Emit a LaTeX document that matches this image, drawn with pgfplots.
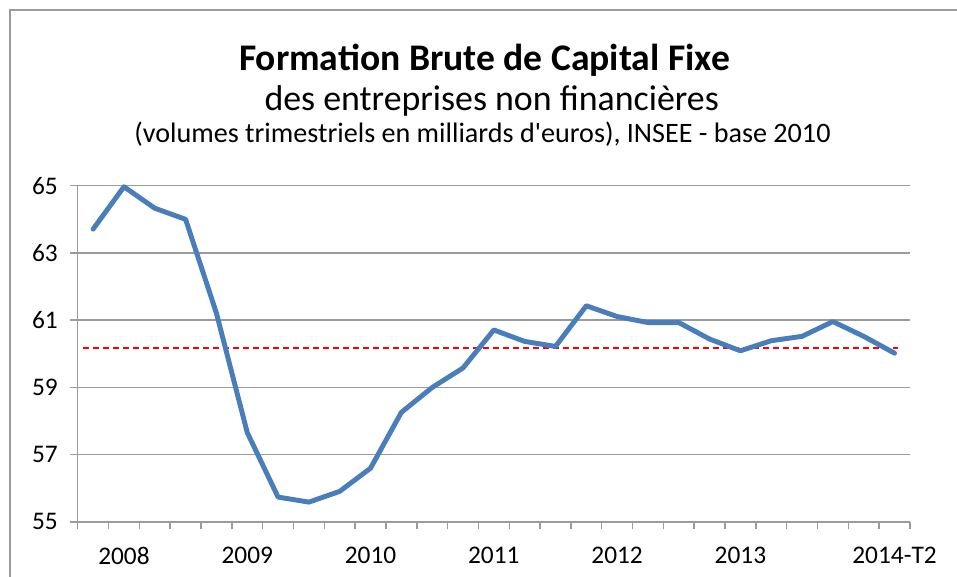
\documentclass[border=0pt]{standalone}
\usepackage{pgfplots}
\pgfplotsset{compat=1.18}
\usepackage{fontspec}
\setmainfont{Carlito}
\definecolor{gridgray}{RGB}{155,155,155}
\definecolor{lineblue}{RGB}{74,126,187}
\pgfplotstableread{
x y
0 63.71
1 64.97
2 64.33
3 64.00
4 61.21
5 57.66
6 55.74
7 55.59
8 55.91
9 56.60
10 58.26
11 59.00
12 59.58
13 60.71
14 60.37
15 60.22
16 61.43
17 61.11
18 60.93
19 60.93
20 60.44
21 60.09
22 60.39
23 60.52
24 60.96
25 60.52
26 60.02
}\fbcf
\pgfplotstableread{
x y
-0.33 60.17
26.1 60.17
}\moyenne
\begin{document}
\begin{tikzpicture}
\useasboundingbox (-58.3pt,-41.25pt) rectangle (659.5pt,391.5pt);
\draw[gridgray, line width=0.8pt] (-50.8pt,384pt) rectangle (700pt,-60pt);
\begin{axis}[
  at={(0,0)}, anchor=south west,
  scale only axis,
  width=624.2pt, height=252.2pt,
  xmin=-0.5, xmax=26.5,
  ymin=55, ymax=65,
  ytick={55,57,59,61,63,65},
  xtick={-0.5,0.5,...,26.5},
  xticklabels={},
  extra x ticks={1,5,9,13,17,21,26},
  extra x tick labels={2008,2009,2010,2011,2012,2013,2014-T2},
  extra x tick style={major tick length=0pt, grid=none},
  axis x line*=bottom, axis y line*=left,
  axis line style={gridgray, line width=1.1pt},
  tick align=outside,
  major tick length=5.5pt,
  tick style={gridgray, line width=1.1pt},
  ymajorgrids,
  grid style={gridgray, line width=1.1pt},
  tick label style={font=\fontsize{19}{21}\selectfont, text=black},
  xticklabel style={yshift=-15.5pt},
  yticklabel style={xshift=-6pt},
  /pgf/number format/assume math mode=true,
  clip=false,
]
\addplot[red, line width=1.1pt, dash pattern=on 4.5pt off 3pt] table[x=x,y=y] {\moyenne};
\addplot[lineblue, line width=3.7pt, line join=round, line cap=round] table[x=x,y=y] {\fbcf};
\end{axis}
\node[anchor=base, font=\bfseries\fontsize{28.2}{32}\selectfont] at (305.1pt,338.5pt) {Formation Brute de Capital Fixe};
\node[anchor=base, font=\fontsize{26.9}{30}\selectfont] at (310.5pt,308.25pt) {des entreprises non financières};
\node[anchor=base, font=\fontsize{21.1}{24}\selectfont] at (303.6pt,284.5pt) {(volumes trimestriels en milliards d\textquotesingle euros), INSEE - base 2010};
\end{tikzpicture}
\end{document}
